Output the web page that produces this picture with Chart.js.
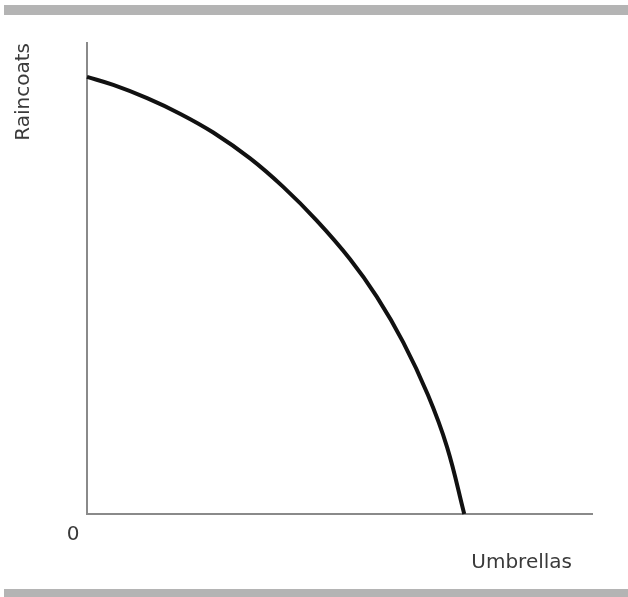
<!DOCTYPE html>
<html>
<head>
<meta charset="utf-8">
<script src="https://cdn.jsdelivr.net/npm/chart.js@4"></script>
<style>
  html, body { margin: 0; padding: 0; background: #fff; }
  #wrap { width: 628px; height: 597px; }
</style>
</head>
<body>
<div id="wrap"><canvas id="ppf" width="628" height="597"></canvas></div>
<script>
// production possibilities frontier (0-100 on both axes)
const umbrellas = [0, 5.2, 11.9, 18.4, 25.0, 32.3, 38.8, 45.5, 52.1, 57.4, 62.6, 67.5, 71.3, 74.7];
const raincoats = [92.8, 91.1, 88.3, 85.0, 81.0, 75.5, 69.5, 62.3, 54.1, 46.1, 36.5, 25.3, 14.2, 0];
const xTitle = "Umbrellas";
const yTitle = "Raincoats";
const originLabel = "0";

const points = umbrellas.map((x, i) => ({ x: x, y: raincoats[i] }));

// gray rules top and bottom, axis labels
const decor = {
  id: "decor",
  beforeDraw(chart) {
    const ctx = chart.ctx;
    ctx.save();
    ctx.fillStyle = "#fff";
    ctx.fillRect(0, 0, chart.width, chart.height);
    ctx.fillStyle = "#b4b4b4";
    ctx.fillRect(4, 5, chart.width - 4, 10);
    ctx.fillRect(4, 589, chart.width - 4, 8);
    ctx.restore();
  },
  afterDraw(chart) {
    const ctx = chart.ctx;
    const area = chart.chartArea;
    ctx.save();
    ctx.fillStyle = "#3a3a3a";
    ctx.font = "20px 'DejaVu Sans'";
    ctx.textBaseline = "middle";
    ctx.textAlign = "center";
    ctx.fillText(originLabel, 73, 535);
    ctx.textAlign = "right";
    ctx.fillText(xTitle, 572, 563);
    ctx.translate(24, area.top);
    ctx.rotate(-Math.PI / 2);
    ctx.textAlign = "right";
    ctx.fillText(yTitle, 0, 0);
    ctx.restore();
  }
};

new Chart(document.getElementById("ppf").getContext("2d"), {
  type: "scatter",
  data: {
    datasets: [{
      data: points,
      showLine: true,
      borderColor: "#111",
      borderWidth: 4,
      pointRadius: 0,
      tension: 0.4,
      clip: false,
    }],
  },
  options: {
    responsive: false,
    animation: false,
    events: [],
    layout: { padding: { left: 79, right: 36, top: 43, bottom: 75 } },
    scales: {
      x: {
        min: 0, max: 100,
        grid: { display: false },
        ticks: { display: false },
        border: { color: "#8a8a8a", width: 2 },
      },
      y: {
        min: 0, max: 100,
        grid: { display: false },
        ticks: { display: false },
        border: { color: "#8a8a8a", width: 2 },
      },
    },
    plugins: {
      legend: { display: false },
      tooltip: { enabled: false },
    },
  },
  plugins: [decor],
});
</script>
</body>
</html>
